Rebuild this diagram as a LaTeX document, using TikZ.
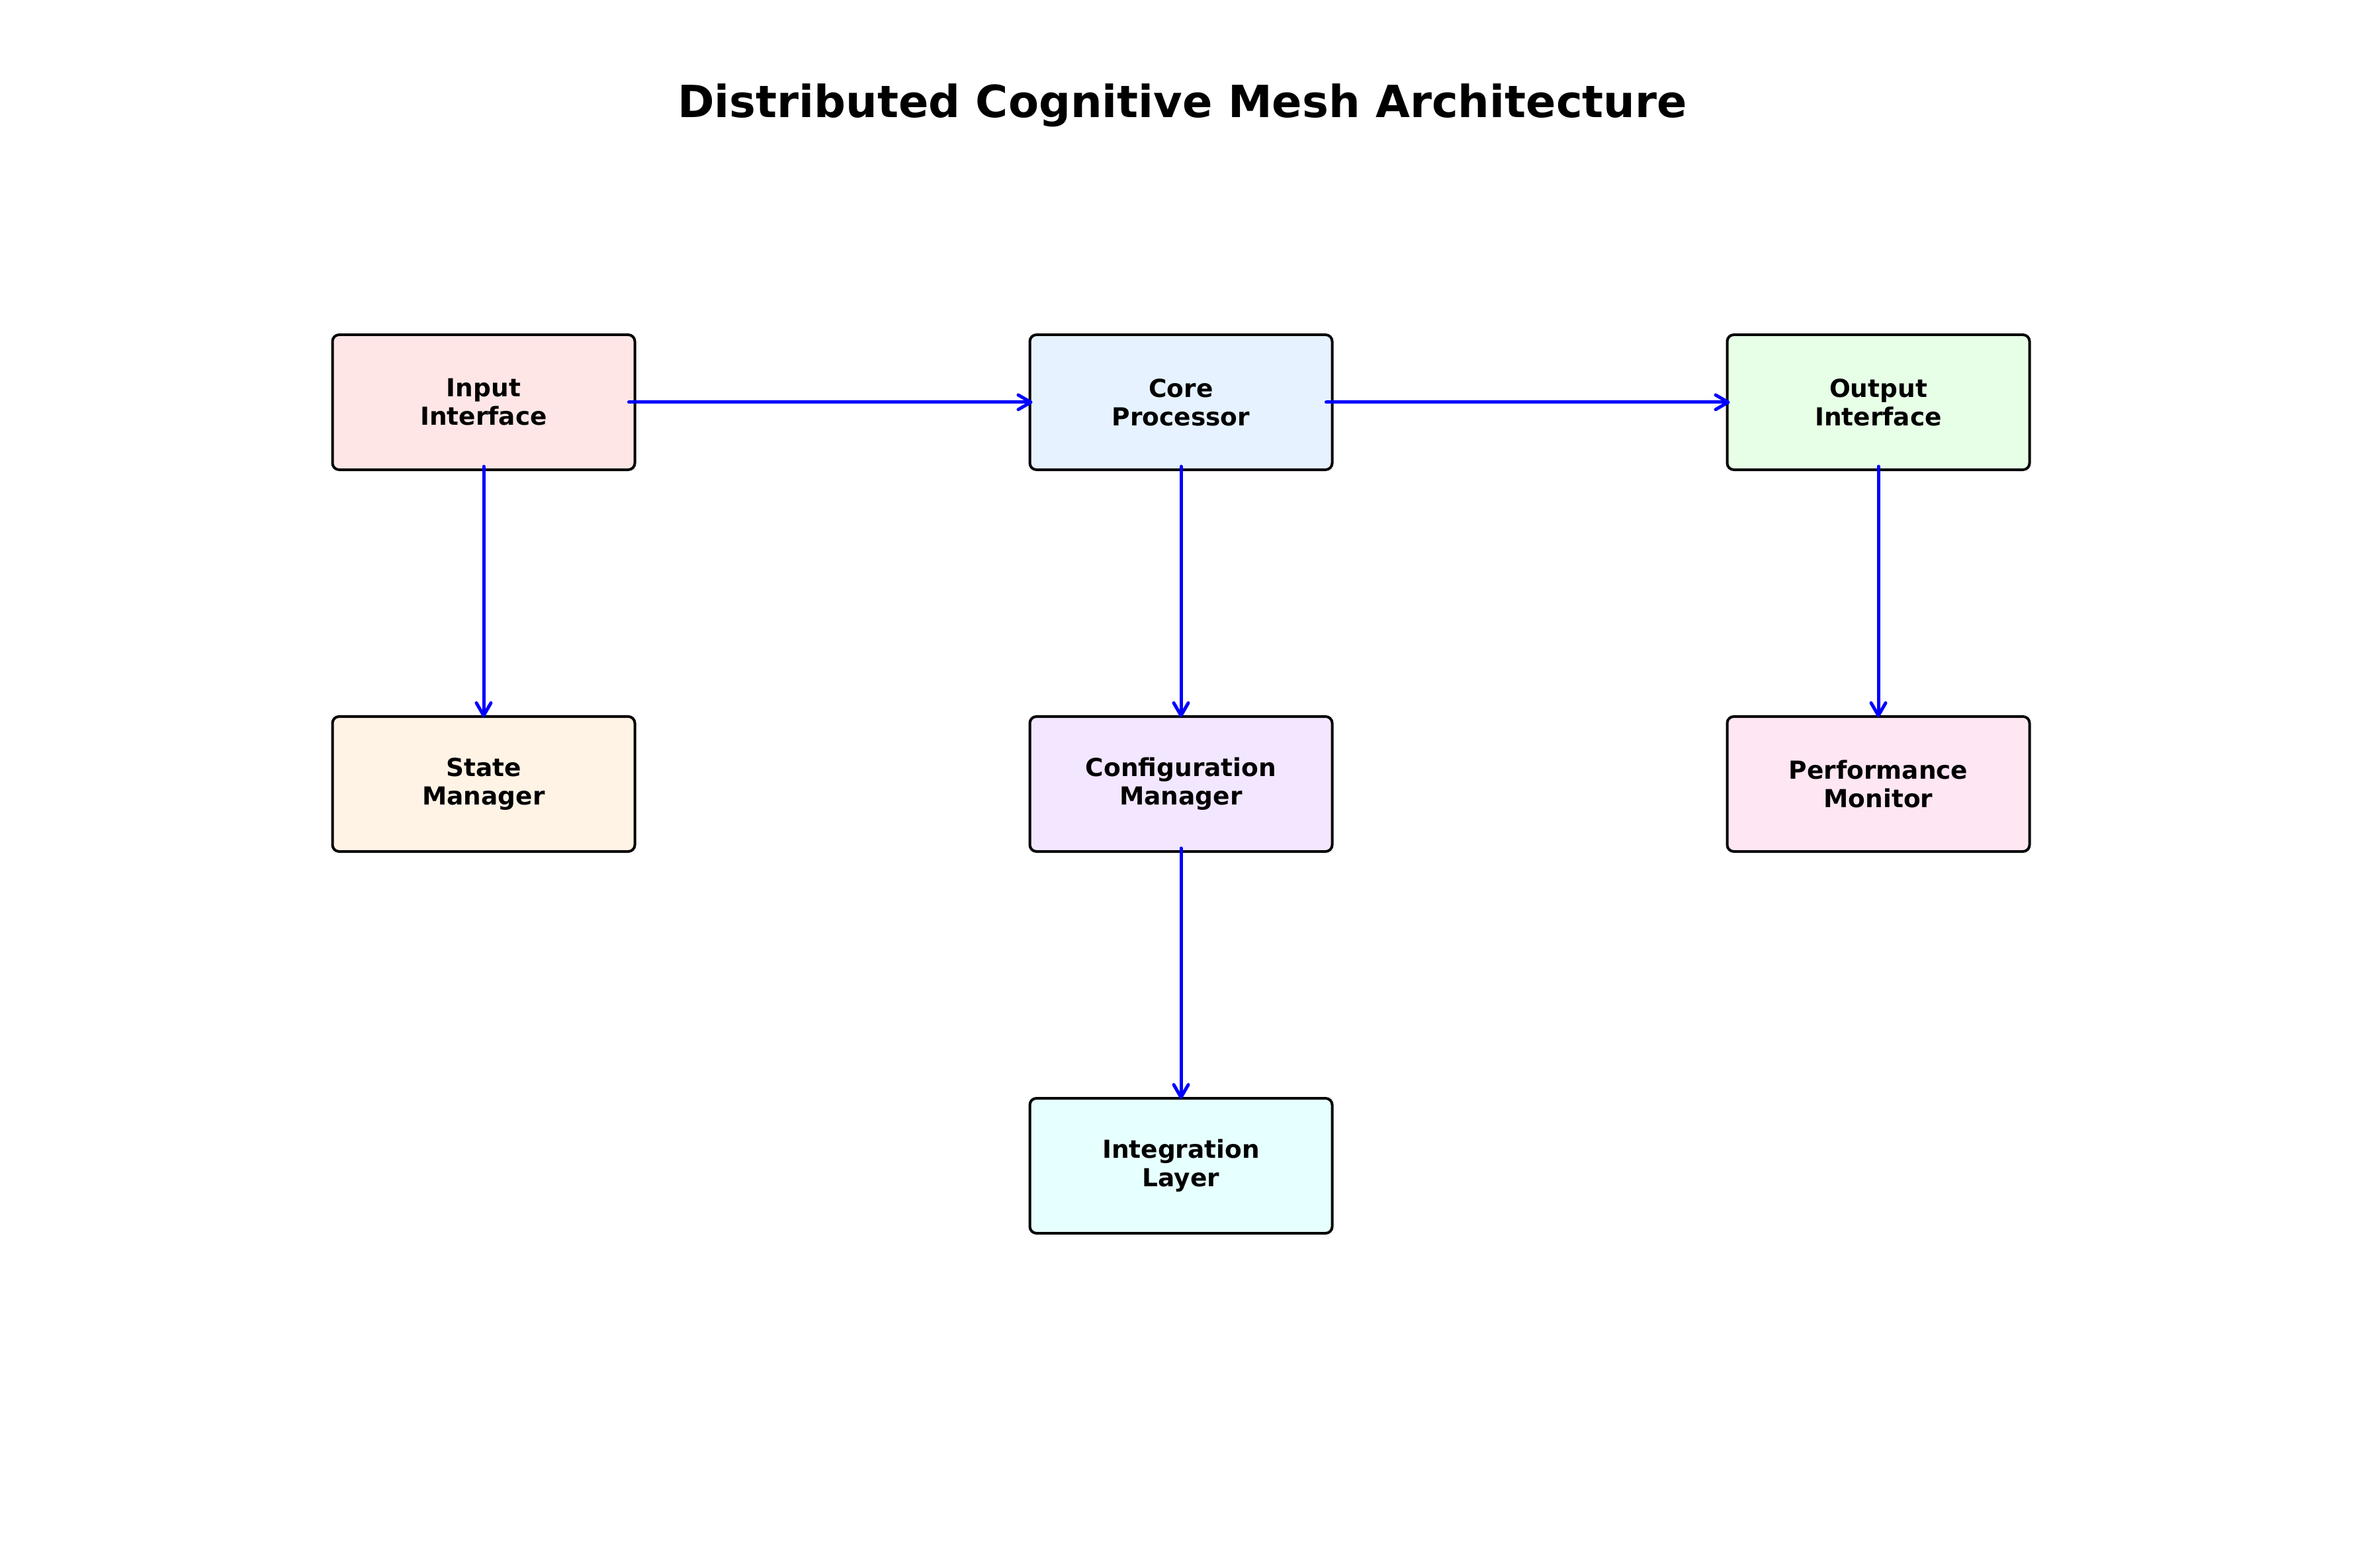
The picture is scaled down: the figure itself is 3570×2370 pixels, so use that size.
\documentclass[tikz,border=0pt]{standalone}
\usepackage{fontspec}
\setmainfont{DejaVu Sans}
\usetikzlibrary{arrows.meta}
\definecolor{cinput}{RGB}{255,230,230}
\definecolor{ccore}{RGB}{230,242,255}
\definecolor{coutput}{RGB}{230,255,230}
\definecolor{cstate}{RGB}{255,243,230}
\definecolor{cconfig}{RGB}{243,230,255}
\definecolor{cperf}{RGB}{255,230,243}
\definecolor{cinteg}{RGB}{230,255,255}
\definecolor{arrowblue}{RGB}{0,0,255}
\tikzset{
  compbox/.style={draw=black, line width=0.8pt, rounded corners=2pt,
    minimum width=91.4pt, minimum height=40.8pt, inner sep=0pt, align=center,
    font=\fontsize{7.5pt}{8.6pt}\selectfont\bfseries},
  flowbase/.style={draw=arrowblue, line width=1pt, line cap=round,
    -{Straight Barb[length=3.8pt,width=4.4pt,line width=1pt,round]}},
  flowh/.style={flowbase, shorten <=-2.2pt, shorten >=-1.2pt},
  flowv/.style={flowbase, shorten <=-1.4pt, shorten >=-0.6pt}
}
\begin{document}
\begin{tikzpicture}[x=0.2pt,y=-0.2pt]
\useasboundingbox[fill=white] (0,0) rectangle (3570,2370);
\node[font=\fontsize{13.4pt}{16pt}\selectfont\bfseries] (title) at (1787,159) {Distributed Cognitive Mesh Architecture};
\node[compbox, fill=cinput]  (input)  at (731,608)  {Input\\Interface};
\node[compbox, fill=ccore]   (core)   at (1785,608) {Core\\Processor};
\node[compbox, fill=coutput] (output) at (2839,608) {Output\\Interface};
\node[compbox, fill=cstate]  (state)  at (731,1185) {State\\Manager};
\node[compbox, fill=cconfig] (config) at (1785,1185) {Configuration\\Manager};
\node[compbox, fill=cperf]   (perf)   at (2839,1185) {Performance\\Monitor};
\node[compbox, fill=cinteg]  (integ)  at (1785,1762) {Integration\\Layer};
\draw[flowh] (input.east) -- (core.west);
\draw[flowh] (core.east) -- (output.west);
\draw[flowv] (input.south) -- (state.north);
\draw[flowv] (core.south) -- (config.north);
\draw[flowv] (output.south) -- (perf.north);
\draw[flowv] (config.south) -- (integ.north);
\end{tikzpicture}
\end{document}
